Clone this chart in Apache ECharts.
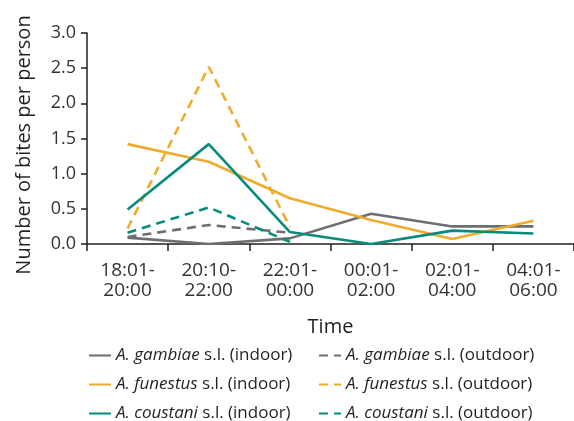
<!DOCTYPE html>
<html><head><meta charset="utf-8">
<script src="https://cdn.jsdelivr.net/npm/echarts@6/dist/echarts.min.js"></script>
<style>html,body{margin:0;padding:0;background:#fff}#c{width:574px;height:421px}</style>
</head><body><div id="c"></div>
<script>
var categories = ['18:01-\n20:00','20:10-\n22:00','22:01-\n00:00','00:01-\n02:00','02:01-\n04:00','04:01-\n06:00'];
var yTicks = [0, 0.5, 1.0, 1.5, 2.0, 2.5, 3.0];
var gambiaeIndoor  = [0.09, 0.00, 0.08, 0.43, 0.25, 0.25];
var gambiaeOutdoor = [0.10, 0.27, 0.16, null, null, null];
var funestusIndoor  = [1.42, 1.17, 0.65, 0.34, 0.07, 0.33];
var funestusOutdoor = [0.22, 2.52, 0.24, null, null, null];
var coustaniIndoor  = [0.49, 1.42, 0.17, 0.00, 0.19, 0.15];
var coustaniOutdoor = [0.16, 0.52, 0.03, null, null, null];
var names = [
  ['A. gambiae', ' s.l. (indoor)'], ['A. gambiae', ' s.l. (outdoor)'],
  ['A. funestus', ' s.l. (indoor)'], ['A. funestus', ' s.l. (outdoor)'],
  ['A. coustani', ' s.l. (indoor)'], ['A. coustani', ' s.l. (outdoor)']
];
var GRAY = '#6d6e71', ORANGE = '#efab2c', TEAL = '#078b7b';
var FONT = 'Open Sans';
var TXT = '#231f20';
function label(n){ return n[0] + n[1]; }
function ser(n, data, color, dashed){
  return {
    name: label(n), type: 'line', data: data, symbol: 'none', showSymbol: false,
    connectNulls: false, animation: false,
    lineStyle: { color: color, width: 2.6, type: dashed ? [9,6] : 'solid' },
    itemStyle: { color: color }
  };
}
var legendText = {
  fontFamily: FONT, fontSize: 17, color: TXT,
  rich: {
    i: { fontFamily: FONT, fontSize: 17, fontStyle: 'italic', color: TXT },
    n: { fontFamily: FONT, fontSize: 17, color: TXT }
  }
};
function fmt(name){
  for (var k = 0; k < names.length; k++) {
    if (label(names[k]) === name) return '{i|' + names[k][0] + '}{n|' + names[k][1] + '}';
  }
  return name;
}
var rowCenters = [355, 384, 413];
var colLefts = [88, 318];
var legends = [];
for (var k = 0; k < names.length; k++) {
  legends.push({
    left: colLefts[k % 2], top: rowCenters[Math.floor(k / 2)] - 8,
    padding: 0, itemWidth: 22, itemHeight: 14,
    itemStyle: { opacity: 0 },
    data: [label(names[k])], formatter: fmt, textStyle: legendText
  });
}
var chart = echarts.init(document.getElementById('c'));
chart.setOption({
  animation: false,
  backgroundColor: '#fff',
  grid: { left: 87, right: -11, top: 33, bottom: 177, containLabel: false },
  legend: legends,
  graphic: [
    { type: 'text', x: 24, y: 145, rotation: Math.PI / 2,
      style: { text: 'Number of bites per person', fontFamily: FONT, fontSize: 20, fill: TXT,
               textAlign: 'center', textVerticalAlign: 'middle', align: 'center', verticalAlign: 'middle' } }
  ],
  xAxis: {
    type: 'category', data: categories, boundaryGap: true,
    name: 'Time', nameLocation: 'middle', nameGap: 73,
    nameTextStyle: { fontFamily: FONT, fontSize: 20, color: TXT },
    axisLine: { lineStyle: { color: '#231f20', width: 1.5 } },
    axisTick: { show: true, length: 7, lineStyle: { color: '#231f20', width: 1.5 } },
    axisLabel: { fontFamily: FONT, fontSize: 19, color: '#333', lineHeight: 20, margin: 17, interval: 0 },
    splitLine: { show: false }
  },
  yAxis: {
    type: 'value', min: 0, max: 3, interval: 0.5,
    axisLine: { show: true, lineStyle: { color: '#231f20', width: 1.5 } },
    axisTick: { show: true, length: 6, lineStyle: { color: '#231f20', width: 1.5 } },
    axisLabel: { fontFamily: FONT, fontSize: 18, color: '#333', margin: 11,
      formatter: function(v){ return yTicks.indexOf(v) >= 0 ? v.toFixed(1) : ''; } },
    splitLine: { show: false }
  },
  series: [
    ser(names[0], gambiaeIndoor, GRAY, false),
    ser(names[1], gambiaeOutdoor, GRAY, true),
    ser(names[2], funestusIndoor, ORANGE, false),
    ser(names[3], funestusOutdoor, ORANGE, true),
    ser(names[4], coustaniIndoor, TEAL, false),
    ser(names[5], coustaniOutdoor, TEAL, true)
  ]
});
</script></body></html>
